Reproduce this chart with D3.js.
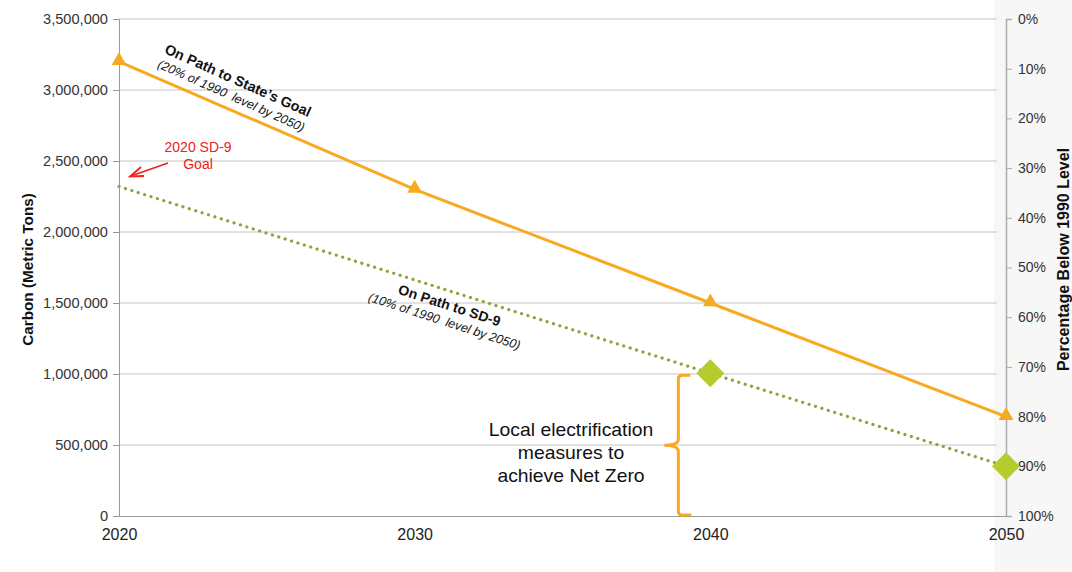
<!DOCTYPE html>
<html><head><meta charset="utf-8">
<script src="https://cdn.jsdelivr.net/npm/d3@7"></script>
<style>body{margin:0;background:#fff;} svg{display:block;font-family:"Liberation Sans",Arial,sans-serif;} text{white-space:pre;}</style>
</head><body><svg id="c" width="1072" height="572"></svg>
<script>
const years = [2020, 2030, 2040, 2050];
const stateGoal = [3200000, 2300000, 1500000, 700000];
const sd9Years = [2020, 2040, 2050];
const sd9Values = [2320000, 1005000, 350000];
const sd9MarkerYears = [2040, 2050];
const leftTicks = [0, 500000, 1000000, 1500000, 2000000, 2500000, 3000000, 3500000];
const rightTicks = [0, 10, 20, 30, 40, 50, 60, 70, 80, 90, 100];

const svg = d3.select("#c");
const L = 119, R = 1006, T = 19, B = 516;
const x = d3.scaleLinear().domain([2020, 2050]).range([L, R]);
const y = d3.scaleLinear().domain([0, 3500000]).range([B, T]);
const yr = d3.scaleLinear().domain([0, 100]).range([T, B]);

svg.append("rect").attr("x", 994).attr("y", 0).attr("width", 78).attr("height", 572).attr("fill", "#f7f7f7");

// gridlines
svg.append("g").selectAll("line").data(leftTicks.filter(d => d > 0)).join("line")
  .attr("x1", L).attr("x2", 997).attr("y1", d => y(d)).attr("y2", d => y(d))
  .attr("stroke", "#c4c4c4").attr("stroke-width", 1);

// left axis
const gl = svg.append("g").attr("transform", `translate(${L},0)`)
  .call(d3.axisLeft(y).tickValues(leftTicks).tickSize(6).tickPadding(5).tickFormat(d3.format(",")));
gl.select(".domain").attr("stroke", "#999");
gl.selectAll(".tick line").attr("stroke", "#999");
gl.selectAll("text").attr("font-size", 14.6).attr("fill", "#333").attr("font-family", "Liberation Sans, Arial, sans-serif");

// bottom axis
const gb = svg.append("g").attr("transform", `translate(0,${B})`)
  .call(d3.axisBottom(x).tickValues(years).tickSize(0).tickPadding(13).tickFormat(d3.format("d")));
gb.select(".domain").attr("stroke", "#999");
gb.selectAll("text").attr("font-size", 16).attr("fill", "#222").attr("font-family", "Liberation Sans, Arial, sans-serif");

// right axis
const gr = svg.append("g").attr("transform", `translate(${R},0)`)
  .call(d3.axisRight(yr).tickValues(rightTicks).tickSize(6).tickPadding(6).tickFormat(d => d + "%"));
gr.select(".domain").attr("stroke", "#aaa").attr("stroke-width", 1.5);
gr.selectAll(".tick line").attr("stroke", "#aaa");
gr.selectAll("text").attr("font-size", 14).attr("fill", "#333").attr("font-family", "Liberation Sans, Arial, sans-serif");

// axis titles
svg.append("text").attr("transform", `translate(33,${(T + B) / 2 + 2}) rotate(-90)`)
  .attr("text-anchor", "middle").attr("font-size", 15.3).attr("font-weight", "bold").attr("fill", "#111")
  .text("Carbon (Metric Tons)");
svg.append("text").attr("transform", `translate(1069,${(T + B) / 2 - 8}) rotate(-90)`)
  .attr("text-anchor", "middle").attr("font-size", 16).attr("font-weight", "bold").attr("fill", "#111")
  .text("Percentage Below 1990 Level");

// SD-9 dotted line
const sd9 = sd9Years.map((yv, i) => [yv, sd9Values[i]]);
svg.append("path").datum(sd9)
  .attr("d", d3.line().x(d => x(d[0])).y(d => y(d[1])))
  .attr("fill", "none").attr("stroke", "#8aa63a").attr("stroke-width", 3.2)
  .attr("stroke-linecap", "round").attr("stroke-dasharray", "0.1 6.6");

// State goal line
const sg = years.map((yv, i) => [yv, stateGoal[i]]);
svg.append("path").datum(sg)
  .attr("d", d3.line().x(d => x(d[0])).y(d => y(d[1])))
  .attr("fill", "none").attr("stroke", "#f7a91f").attr("stroke-width", 3);
svg.append("g").selectAll("path").data(sg).join("path")
  .attr("transform", d => `translate(${x(d[0])},${y(d[1]) - 1})`)
  .attr("d", d3.symbol().type(d3.symbolTriangle).size(95))
  .attr("fill", "#f7a91f");

// diamonds
svg.append("g").selectAll("path").data(sd9.filter(d => sd9MarkerYears.includes(d[0]))).join("path")
  .attr("transform", d => `translate(${x(d[0])},${y(d[1])})`)
  .attr("d", "M0,-14L14,0L0,14L-14,0Z")
  .attr("fill", "#b6cc2c");

// labels along lines
function rotLabel(cx, cy, ang, lines) {
  const g = svg.append("g").attr("transform", `translate(${cx},${cy}) rotate(${ang})`);
  lines.forEach(l => {
    g.append("text").attr("x", 0).attr("y", l.dy).attr("text-anchor", "middle")
      .attr("font-size", l.size).attr("font-weight", l.bold ? "bold" : "normal")
      .attr("font-style", l.italic ? "italic" : "normal").attr("fill", "#111").text(l.t);
  });
}
rotLabel(236, 85, 24, [
  {t: "On Path to State\u2019s Goal", size: 14.3, bold: true, dy: 0},
  {t: "(20% of 1990  level by 2050)", size: 12.5, italic: true, dy: 16}
]);
rotLabel(448, 310, 18, [
  {t: "On Path to SD-9", size: 14, bold: true, dy: 0},
  {t: "(10% of 1990  level by 2050)", size: 12.5, italic: true, dy: 16}
]);

// 2020 SD-9 Goal annotation
svg.append("text").attr("x", 198).attr("y", 152).attr("text-anchor", "middle")
  .attr("font-size", 14).attr("fill", "#ee2020").text("2020 SD-9");
svg.append("text").attr("x", 198).attr("y", 169).attr("text-anchor", "middle")
  .attr("font-size", 14).attr("fill", "#ee2020").text("Goal");
svg.append("line").attr("x1", 168).attr("y1", 163).attr("x2", 131).attr("y2", 176)
  .attr("stroke", "#ee2020").attr("stroke-width", 1.8);
svg.append("path").attr("d", "M141,167 L130,176.5 L144,176")
  .attr("fill", "none").attr("stroke", "#ee2020").attr("stroke-width", 1.8);

// bracket
const bx = x(2040) - 32, bt = y(1005000) + 2, bb = y(0) - 1, bm = (bt + bb) / 2;
svg.append("path")
  .attr("d", `M${bx + 12},${bt} L${bx + 4},${bt} Q${bx},${bt} ${bx},${bt + 4} L${bx},${bm - 6} Q${bx},${bm} ${bx - 14},${bm} Q${bx},${bm} ${bx},${bm + 6} L${bx},${bb - 4} Q${bx},${bb} ${bx + 4},${bb} L${bx + 13},${bb}`)
  .attr("fill", "none").attr("stroke", "#f7a91f").attr("stroke-width", 3);

["Local electrification", "measures to", "achieve Net Zero"].forEach((t, i) => {
  svg.append("text").attr("transform", `translate(571,${436 + i * 23}) scale(1.075,1)`)
    .attr("text-anchor", "middle").attr("font-size", 18).attr("fill", "#111").text(t);
});
</script></body></html>
